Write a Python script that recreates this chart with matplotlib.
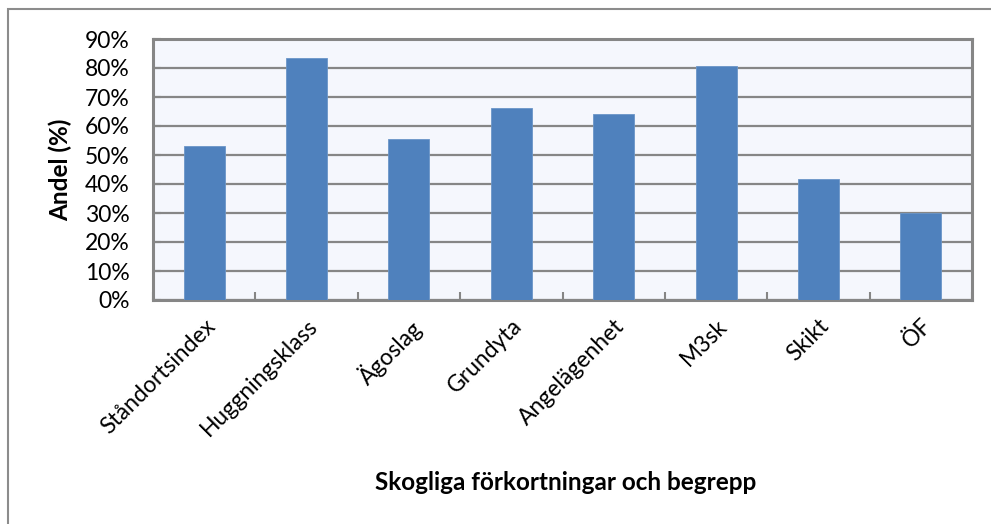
import numpy as np
import matplotlib.pyplot as plt
from matplotlib.patches import Rectangle

categories = ['Ståndortsindex', 'Huggningsklass', 'Ägoslag', 'Grundyta',
              'Angelägenhet', 'M3sk', 'Skikt', 'ÖF']
andel = [53.2, 83.3, 55.4, 66.1, 64.0, 80.6, 41.7, 29.9]
y_ticks = [0, 10, 20, 30, 40, 50, 60, 70, 80, 90]

plt.rcParams['font.family'] = ['Lato', 'DejaVu Sans']

fig = plt.figure(figsize=(9.91, 5.24), dpi=100)
ax = fig.add_axes([153 / 991, 1 - 300 / 524, (972 - 153) / 991, (300 - 39) / 524])

# outer chart frame (runs off the right and bottom edge)
fig.patches.append(Rectangle((8 / 991, -0.05), 1.2, 1 - 9 / 524 + 0.05,
                             transform=fig.transFigure, fill=False,
                             edgecolor='#8c8c8c', linewidth=1.5))

x = np.arange(len(categories))
ax.set_facecolor('#f5f7fd')
ax.bar(x, andel, width=0.4, color='#4f81bd', edgecolor='#6b95c8',
       linewidth=0.6, zorder=3)

ax.set_xlim(-0.5, len(categories) - 0.5)
ax.set_ylim(0, 90)
ax.set_yticks(y_ticks)
ax.set_yticklabels([f'{v}%' for v in y_ticks], fontsize=16.5)
ax.yaxis.grid(True, color='#868686', linewidth=1.6, zorder=1)

ax.set_xticks(x)
ax.set_xticklabels(categories, fontsize=16.5, rotation=45, ha='right',
                   rotation_mode='anchor')
ax.tick_params(axis='x', length=0, pad=11)
ax.set_xticks(np.arange(len(categories) + 1) - 0.5, minor=True)
ax.tick_params(axis='x', which='minor', direction='in', length=6,
               width=1.5, color='#868686')
ax.tick_params(axis='y', direction='in', length=6, width=1.5,
               color='#868686', pad=17)

for s in ax.spines.values():
    s.set_color('#868686')
    s.set_linewidth(2.2)

fig.text(60 / 991, 1 - 170 / 524, 'Andel (%)', rotation=90, fontsize=17.5,
         fontweight='bold', ha='center', va='center')
fig.text(566 / 991, 1 - 483 / 524, 'Skogliga förkortningar och begrepp',
         fontsize=17.5, fontweight='bold', ha='center', va='center')

fig.savefig('out.png', dpi=100, facecolor='white')
